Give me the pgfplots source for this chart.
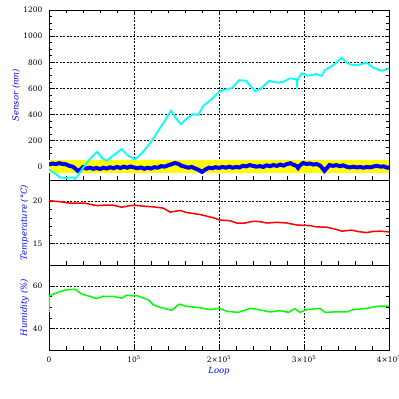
\documentclass[border=0pt]{standalone}
\usepackage{fontspec}
\setmainfont{DejaVu Serif}
\usepackage{pgfplots}
\pgfplotsset{compat=1.18}
\definecolor{cy}{RGB}{0,255,255}
\definecolor{bl}{RGB}{0,0,255}
\definecolor{rd}{RGB}{255,0,0}
\definecolor{gr}{RGB}{0,255,0}
\definecolor{yl}{RGB}{255,255,0}
\pgfplotsset{
  panel/.style={
    scale only axis, width=340bp,
    xmin=0, xmax=400000,
    xtick={0,100000,200000,300000,400000},
    minor x tick num=4,
    scaled x ticks=false, scaled y ticks=false,
    grid=major,
    major grid style={black, dash pattern=on 2bp off 1.5bp, line width=0.7bp},
    tick align=inside,
    axis line style={black, line width=0.9bp},
    every tick/.style={black, line width=0.8bp},
    major tick length=4bp, minor tick length=3.5bp,
    ytick pos=both,
    /pgf/number format/assume math mode=true,
    /pgf/number format/1000 sep={},
    ticklabel style={font=\fontsize{7.5}{8}\selectfont},
    yticklabel style={xshift=-3bp},
    every axis y label/.style={rotate=90, anchor=center, text=bl, font=\fontsize{8.5}{9}\selectfont\itshape},
    every axis x label/.style={at={([yshift=-24bp]rel axis cs:0.5,0)}, anchor=base, text=bl, font=\fontsize{8.5}{9}\selectfont\itshape},
  }
}
\begin{document}
\begin{tikzpicture}
\useasboundingbox (0,0) rectangle (399bp,399bp);
% ---------------- top panel ----------------
\begin{axis}[panel, at={(49bp,219bp)}, anchor=south west, height=170bp,
  ymin=-100, ymax=1200, ytick={0,200,400,600,800,1000,1200}, minor y tick num=3,
  xtick pos=both, xticklabels={},
  ylabel={Sensor (nm)},
  every axis y label/.append style={at={([xshift=-33bp]rel axis cs:0,0.5)}}]
\addplot[draw=none, fill=yl] coordinates {(0,-50) (400000,-50) (400000,50) (0,50)} -- cycle;
\addplot[bl, line width=4bp, line join=miter] coordinates {
(0,18)(4000,26)(8000,21)(12000,29)(16000,22)(20000,20)(24000,8)(28000,2)(31000,-12)(34000,-30)(37000,-20)
(40000,-2)(44000,-12)(48000,-6)(52000,-14)(56000,-8)(60000,-16)(64000,-6)(68000,-12)(72000,-3)(76000,-10)
(80000,0)(84000,-8)(88000,2)(92000,-6)(96000,3)(100000,-4)(104000,-10)(108000,-4)(112000,-14)(116000,-6)
(120000,-12)(124000,-2)(128000,-6)(132000,6)(136000,2)(140000,12)(144000,20)(148000,30)(152000,24)(156000,8)
(160000,2)(164000,-6)(168000,0)(172000,-12)(176000,-22)(180000,-38)(184000,-20)(188000,-6)(192000,-10)(196000,-2)
(200000,-8)(204000,0)(208000,-6)(212000,2)(216000,-6)(220000,0)(224000,-4)(228000,8)(232000,4)(236000,14)
(240000,8)(244000,2)(248000,6)(252000,0)(256000,12)(260000,6)(264000,14)(268000,8)(272000,18)(276000,10)
(280000,22)(284000,28)(288000,16)(291000,8)(293000,-8)(295000,10)(299000,30)(303000,22)(307000,26)(311000,18)
(315000,22)(319000,10)(322000,-12)(324000,-30)(327000,-8)(330000,14)(334000,8)(338000,14)(342000,6)(346000,12)
(350000,2)(354000,-4)(358000,2)(362000,-4)(366000,0)(370000,-6)(374000,0)(378000,-4)(382000,4)(386000,8)
(390000,2)(394000,4)(398000,-6)(400000,-4)};
\addplot[cy, line width=1.8bp] coordinates {
(0,-20)(1200,-24)(6000,-45)(12900,-80)(20000,-85)(28200,-80)(30600,-92)(35000,-55)(40000,-8)(48000,60)
(56800,116)(62000,70)(67900,47)(76000,90)(85500,137)(92000,90)(101200,58)(110000,110)(118800,180)(124000,230)
(129800,290)(136000,350)(143500,430)(149000,375)(155000,326)(162000,370)(169800,404)(175600,397)(181500,466)(191400,519)
(200400,575)(209100,596)(214900,601)(223900,664)(231800,659)(237000,620)(242400,580)(248200,593)(259200,659)(264000,650)
(269800,644)(275600,651)(283500,677)(291000,670)(291800,626)(292600,670)(297300,716)(305100,697)(314900,710)(320800,695)
(324700,741)(334500,779)(344400,833)(350000,800)(354100,784)(362000,777)(373800,797)(381500,758)(391400,735)(400000,751)};
\end{axis}
% ---------------- middle panel ----------------
\begin{axis}[panel, at={(49bp,134bp)}, anchor=south west, height=85bp,
  ymin=12.5, ymax=22.5, ytick={15,20}, minor y tick num=4,
  xtick pos=lower, xticklabels={},
  ylabel={Temperature (°C)},
  every axis y label/.append style={at={([xshift=-24.5bp]rel axis cs:0,0.5)}}]
\addplot[rd, line width=1.5bp] coordinates {
(0,20.07)(18800,19.88)(24700,19.77)(42400,19.77)(50200,19.6)(56100,19.49)(63900,19.53)(75600,19.53)(85500,19.3)
(93300,19.45)(101200,19.53)(110900,19.42)(122700,19.34)(134500,19.19)(142400,18.72)(154100,18.91)(162000,18.67)
(177600,18.44)(193300,18.06)(201200,17.79)(212900,17.71)(220800,17.44)(230600,17.44)(240400,17.64)(248200,17.6)
(256100,17.44)(267900,17.52)(279600,17.44)(291400,17.21)(307100,17.13)(314900,16.98)(326700,16.95)(338500,16.67)
(344400,16.48)(356100,16.6)(365900,16.4)(373800,16.32)(381500,16.45)(389400,16.48)(400000,16.4)};
\end{axis}
% ---------------- bottom panel ----------------
\begin{axis}[panel, at={(49bp,49bp)}, anchor=south west, height=85bp,
  ymin=30, ymax=70, ytick={40,60}, minor y tick num=3,
  xtick pos=lower,
  xticklabels={0,{10\textsuperscript{5}},{2×10\textsuperscript{5}},{3×10\textsuperscript{5}},{4×10\textsuperscript{5}}},
  xticklabel style={anchor=base, yshift=-13bp},
  xlabel={Loop},
  ylabel={Humidity (\%)},
  every axis y label/.append style={at={([xshift=-24.5bp]rel axis cs:0,0.5)}}]
\addplot[gr, line width=1.5bp] coordinates {
(0,48)(500,55.5)(5000,56.3)(12900,57.5)(20800,58.3)(30600,58.6)(38500,56.3)(48200,55.2)(56100,54.2)(63900,55.3)
(75600,55.2)(85500,54.4)(91400,55.8)(97300,55.5)(103200,55.6)(110900,54.5)(116800,53.6)(122700,51.3)(130600,50.1)
(138500,49.3)(144400,48.7)(153300,51.6)(162000,50.5)(177600,49.9)(189400,49)(200400,49.6)(209100,48.2)(222700,47.7)
(236500,49.6)(246200,49)(260000,47.9)(271800,48.5)(281500,47.7)(289400,49.4)(295300,47.7)(303200,49)(318800,49.6)
(324700,47.7)(334500,47.9)(350200,47.9)(358000,49)(373800,49.6)(381500,50.2)(389400,50.7)(400000,50.6)};
\end{axis}
\end{tikzpicture}
\end{document}
